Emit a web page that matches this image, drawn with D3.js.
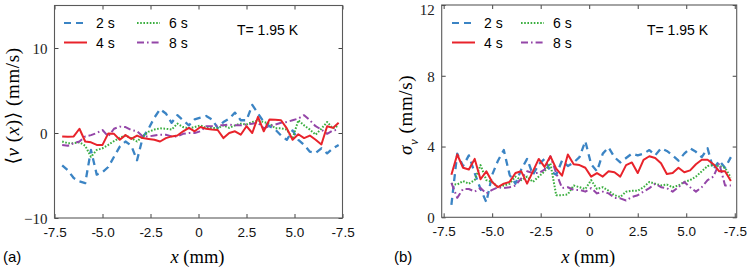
<!DOCTYPE html>
<html>
<head>
<meta charset="utf-8">
<script src="https://cdn.jsdelivr.net/npm/d3@7"></script>
<style>
  body { margin: 0; background: #fff; }
  svg { display: block; }
</style>
</head>
<body>
<svg></svg>
<script>
// positions along the channel (mm)
var xs = [-7.1,-6.8,-6.5,-6.2,-5.9,-5.6,-5.3,-5.0,-4.7,-4.4,-4.1,-3.8,-3.5,-3.2,-2.9,-2.6,-2.3,-2.0,-1.7,-1.4,-1.1,-0.8,-0.5,-0.2,0.1,0.4,0.7,1.0,1.3,1.6,1.9,2.2,2.5,2.8,3.1,3.4,3.7,4.0,4.3,4.6,4.9,5.2,5.5,5.8,6.1,6.4,6.7,7.0,7.3];

var seriesNames = ["2 s", "4 s", "6 s", "8 s"];

// (a) mean velocity <v(x)> (mm/s)
var mean2s = [-3.8,-4.4,-5.3,-5.7,-5.9,-2.0,-4.9,-4.6,-4.0,-2.8,-1.6,-1.0,-1.5,-3.2,-0.5,0.5,1.8,2.8,2.3,1.2,2.1,1.5,0.9,1.6,1.8,2.0,1.6,0.6,1.3,1.7,2.4,1.5,1.5,3.3,2.3,1.3,0.8,0.4,-0.3,-0.8,0.3,-0.8,-1.4,-2.2,-2.35,-1.8,-2.4,-1.8,-1.4];
var mean4s = [-0.4,-0.45,-0.4,0.5,-1.0,-1.1,-1.4,-1.4,-0.05,-0.1,-0.8,-0.25,-0.7,-0.3,-0.6,-0.7,-0.8,-1.0,-0.6,-0.4,-0.3,0.2,0.6,0.2,0.7,0.5,0.4,0.35,-0.6,0.0,0.2,-0.2,0.8,0.0,1.9,0.2,1.6,1.55,1.5,0.55,-0.8,-0.15,-0.6,-0.3,-0.8,-1.35,0.8,0.6,1.2];
var mean6s = [-1.0,-1.2,-1.2,-1.1,-1.5,-2.8,-2.0,-1.8,-1.4,-0.95,-0.55,-0.3,-0.6,-1.0,-0.4,0.15,0.4,0.55,0.5,0.4,1.1,0.7,0.55,0.7,0.9,0.6,0.6,0.55,0.9,0.6,0.9,1.1,1.0,1.3,1.45,1.3,1.1,0.55,0.55,0.4,-0.65,1.5,0.9,0.4,-0.2,0.5,1.3,0.55,0.9];
var mean8s = [-1.4,-1.5,-1.2,-1.0,-0.4,-0.25,0.0,0.35,-0.4,0.5,0.75,0.7,0.35,0.2,-0.4,-0.4,-0.3,-0.2,-0.2,-0.4,-0.4,-0.1,0.0,0.0,0.2,0.8,0.8,0.9,0.9,1.0,0.9,0.9,1.0,1.1,1.2,0.55,0.8,1.0,1.2,1.3,1.5,1.7,2.1,1.5,0.8,0.4,-0.1,0.3,0.4];

// (b) velocity standard deviation sigma_v (mm/s)
var sd2s = [0.7,3.6,2.9,3.5,2.5,1.6,0.85,2.4,3.2,3.8,2.4,1.9,2.7,3.3,2.4,3.0,3.3,2.6,2.4,3.2,2.9,3.1,3.4,4.3,3.0,2.6,3.6,3.95,3.4,3.1,3.35,3.6,3.5,3.6,3.8,3.5,3.9,3.75,3.5,3.2,3.6,3.9,3.7,3.4,3.9,2.7,3.2,2.8,3.4];
var sd4s = [2.4,3.55,2.8,2.7,3.3,2.15,2.6,2.0,1.7,1.9,2.0,2.5,2.6,1.9,2.6,3.3,2.85,3.45,2.75,2.35,3.55,3.0,2.95,2.8,2.3,2.5,2.3,2.6,2.55,2.3,2.95,3.1,2.5,3.25,3.45,3.35,3.05,2.45,2.5,2.8,2.55,2.65,3.0,3.25,3.25,3.0,2.6,2.6,2.05];
var sd6s = [1.9,1.85,2.05,1.9,2.1,2.95,2.1,2.0,1.7,1.8,1.9,2.3,2.1,2.3,2.0,2.3,2.6,3.05,1.25,1.25,1.3,1.8,1.7,1.6,2.1,1.6,1.7,1.5,1.25,1.15,1.45,1.5,1.5,1.7,2.0,1.9,1.8,1.85,1.7,1.8,2.0,2.1,2.3,2.6,2.9,2.95,2.9,2.8,2.25];
var sd8s = [1.95,1.1,1.6,1.6,1.45,1.65,1.35,1.55,1.7,1.65,1.7,1.8,2.2,2.6,2.5,2.5,2.7,3.45,2.5,1.65,1.7,1.55,1.55,1.45,1.65,1.35,1.45,1.35,1.1,1.07,0.95,1.15,1.25,1.45,1.65,1.9,1.7,1.65,1.45,1.7,2.0,1.7,1.45,1.7,2.1,2.3,3.05,1.8,1.8];

// ticks
var xTicks = [-7.5, -5, -2.5, 0, 2.5, 5, 7.5];
var xTickLabels = ["-7.5", "-5.0", "-2.5", "0", "2.5", "5.0", "-7.5"];
var yTicksA = [-10, 0, 10];
var yTicksB = [0, 4, 8, 12];

var colors = ["#3b84c4", "#e8232b", "#3aae3f", "#9446a8"];
var dashes = ["7,5", null, "1.6,1.6", "7,3,1.6,3"];

var width = 747, height = 270;
var svg = d3.select("svg").attr("width", width).attr("height", height);

var serif = '"Liberation Serif", "DejaVu Serif", serif';
var sans = '"Liberation Sans", Arial, sans-serif';

function panel(opts) {
  var x = d3.scaleLinear().domain(opts.xDomain).range([opts.left, opts.right]);
  var y = d3.scaleLinear().domain(opts.yDomain).range([opts.bottom, opts.top]);
  var g = svg.append("g");

  // inward ticks on all four sides
  var bottomAxis = d3.axisBottom(x).tickValues(xTicks)
      .tickFormat((d, i) => xTickLabels[i]).tickSizeInner(-4).tickSizeOuter(0).tickPadding(9);
  var topAxis = d3.axisTop(x).tickValues(xTicks).tickFormat("").tickSizeInner(-4).tickSizeOuter(0);
  var leftAxis = d3.axisLeft(y).tickValues(opts.yTicks).tickFormat(d3.format("d"))
      .tickSizeInner(-4).tickSizeOuter(0).tickPadding(7);
  var rightAxis = d3.axisRight(y).tickValues(opts.yTicks).tickFormat("").tickSizeInner(-4).tickSizeOuter(0);

  var gb = g.append("g").attr("transform", `translate(0,${opts.bottom})`).call(bottomAxis);
  gb.selectAll("text").style("font-family", sans).style("font-size", "13.5px").attr("fill", "#111");
  g.append("g").attr("transform", `translate(0,${opts.top})`).call(topAxis);
  var gl = g.append("g").attr("transform", `translate(${opts.left},0)`).call(leftAxis);
  gl.selectAll("text").style("font-family", serif).style("font-size", "15px").attr("fill", "#222")
    .attr("dy", d => y(d) - opts.top < 6 ? "0.62em" : "0.35em");
  g.append("g").attr("transform", `translate(${opts.right},0)`).call(rightAxis);
  g.selectAll(".domain").remove();
  g.selectAll(".tick line").attr("stroke", "#444");

  var clipId = "clip" + opts.tag;
  svg.append("clipPath").attr("id", clipId).append("rect")
     .attr("x", opts.left).attr("y", opts.top)
     .attr("width", opts.right - opts.left).attr("height", opts.bottom - opts.top);

  var line = d3.line().x((d, i) => x(xs[i])).y(d => y(d));
  var order = [0, 2, 3, 1];
  order.forEach(function(k) {
    g.append("path")
      .attr("clip-path", `url(#${clipId})`)
      .attr("d", line(opts.series[k]))
      .attr("fill", "none")
      .attr("stroke", colors[k])
      .attr("stroke-width", k === 0 ? 2.3 : 2)
      .attr("stroke-dasharray", dashes[k])
      .attr("stroke-linejoin", "round");
  });

  // frame
  g.append("rect")
    .attr("x", opts.left).attr("y", opts.top)
    .attr("width", opts.right - opts.left).attr("height", opts.bottom - opts.top)
    .attr("fill", "none").attr("stroke", "#5a5a5a").attr("stroke-width", 1.1);

  // legend
  var lg = g.append("g");
  seriesNames.forEach(function(name, k) {
    var c = (k === 0 || k === 1) ? 0 : 1;
    var r = (k === 0 || k === 2) ? 0 : 1;
    var lx = opts.legX[c], ly = 23 + r * 19.5;
    lg.append("line")
      .attr("x1", lx).attr("x2", lx + opts.legLen)
      .attr("y1", ly).attr("y2", ly)
      .attr("stroke", colors[k]).attr("stroke-width", 2)
      .attr("stroke-dasharray", dashes[k]);
    lg.append("text")
      .attr("x", lx + opts.legLen + 9).attr("y", ly)
      .attr("dy", "0.36em")
      .style("font-family", sans).style("font-size", "14px")
      .text(name);
  });

  g.append("text")
    .attr("x", opts.tempX).attr("y", 29.5).attr("dy", "0.36em")
    .style("font-family", sans).style("font-size", "14px")
    .text("T= 1.95 K");

  // x label
  var xl = g.append("text")
    .attr("x", (opts.left + opts.right) / 2 - 1).attr("y", 257).attr("dy", "0.35em")
    .attr("text-anchor", "middle")
    .style("font-family", serif).style("font-size", "18.5px");
  xl.append("tspan").style("font-style", "italic").text("x");
  xl.append("tspan").text(" (mm)");

  // panel letter
  g.append("text")
    .attr("x", opts.letterX).attr("y", 257).attr("dy", "0.35em")
    .style("font-family", sans).style("font-size", "15px")
    .text(opts.letter);

  // y label
  var yl = g.append("text")
    .attr("transform", `translate(${opts.yLabelX},${opts.yLabelY}) rotate(-90)`)
    .attr("text-anchor", "middle")
    .attr("dy", "0.35em")
    .style("font-family", serif).style("font-size", "19px")
    .style("letter-spacing", "0.6px");
  opts.yLabel(yl);
}

panel({
  tag: "a",
  left: 54.5, right: 342.5, top: 5.5, bottom: 218,
  xDomain: [-7.5, 7.5], yDomain: [-10, 15], yTicks: yTicksA,
  series: [mean2s, mean4s, mean6s, mean8s],
  legX: [64, 137], legLen: 23, tempX: 237,
  letter: "(a)", letterX: 3,
  yLabelX: 12, yLabelY: 106,
  yLabel: function(t) {
    t.append("tspan").text("\u27E8");
    t.append("tspan").style("font-style", "italic").text("v");
    t.append("tspan").text(" (");
    t.append("tspan").style("font-style", "italic").text("x");
    t.append("tspan").text(")\u27E9  (mm/s)");
  }
});

panel({
  tag: "b",
  left: 441.7, right: 736.7, top: 5, bottom: 217.3,
  xDomain: [-7.6, 7.6], yDomain: [0, 12], yTicks: yTicksB,
  series: [sd2s, sd4s, sd6s, sd8s],
  legX: [452, 521], legLen: 23, tempX: 647,
  letter: "(b)", letterX: 394,
  yLabelX: 405, yLabelY: 115,
  yLabel: function(t) {
    t.append("tspan").style("font-style", "italic").text("\u03C3");
    t.append("tspan").style("font-style", "italic").style("font-size", "13px").attr("dy", "0.5em").text("v");
    t.append("tspan").attr("dy", "-0.35em").text("  (mm/s)");
  }
});
</script>
</body>
</html>
